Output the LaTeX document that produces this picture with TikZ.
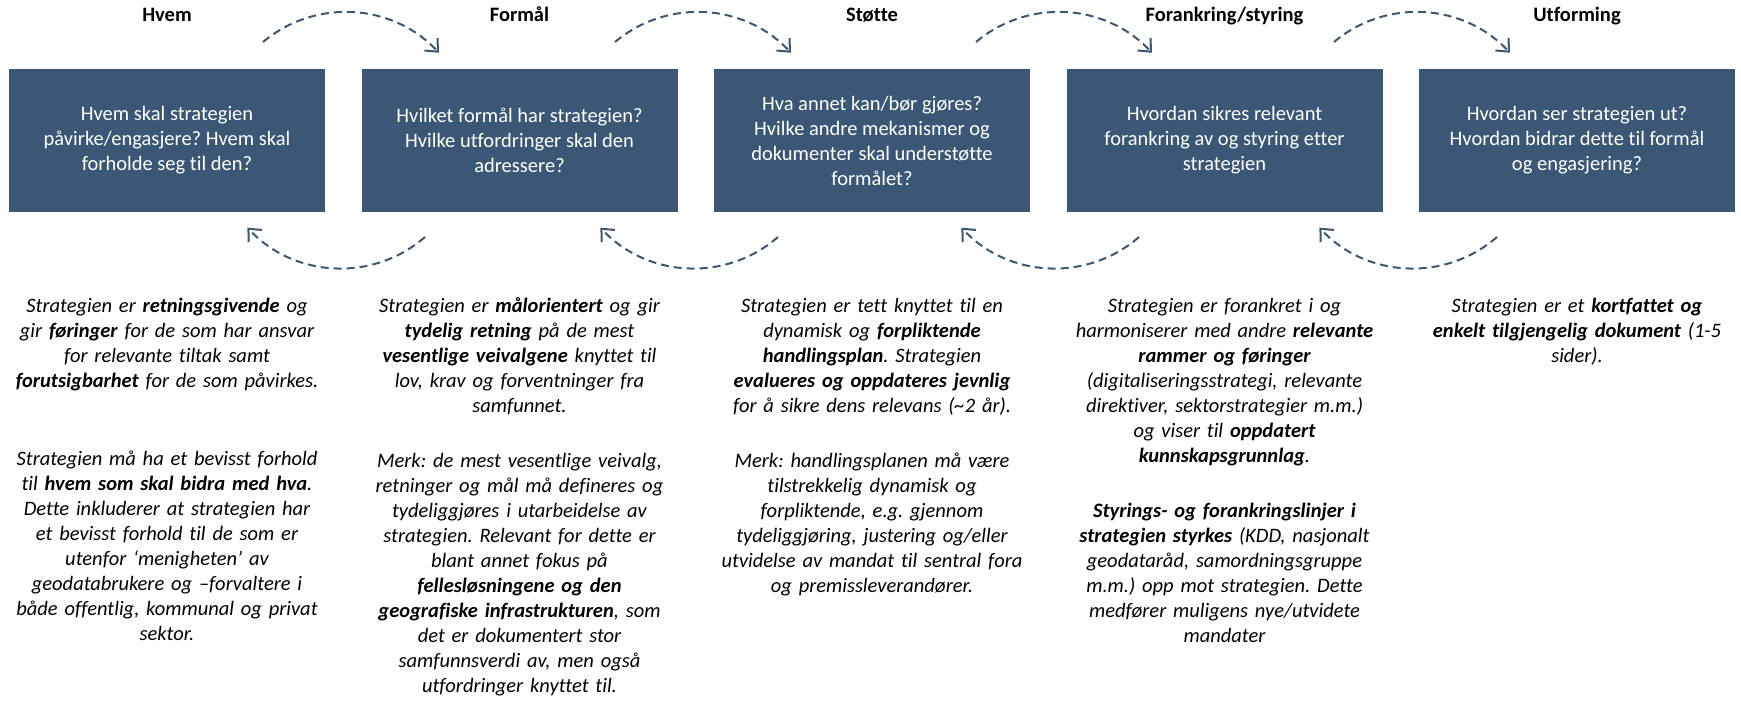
\documentclass[tikz,border=0pt]{standalone}
\usepackage{fontspec}
\setmainfont{Carlito}[Ligatures={TeX,NoCommon}]
\usetikzlibrary{arrows.meta}
\definecolor{boxblue}{HTML}{3B5775}
\frenchspacing
\begin{document}
\begin{tikzpicture}[x=1pt,y=-1pt,
  qbox/.style={fill=boxblue, draw=none, minimum width=316pt, minimum height=143pt, inner sep=0pt, text=white, align=center, font=\frenchspacing\fontsize{20.5}{25}\selectfont},
  ttl/.style={font=\fontsize{20.5}{25}\selectfont\bfseries, anchor=base, inner sep=0pt},
  desc/.style={font=\frenchspacing\fontsize{20.5}{25}\selectfont\itshape, align=center, anchor=base, inner sep=0pt, text width=345pt},
  cyc/.style={draw=boxblue, line width=2pt, dash pattern=on 8pt off 5pt, -{Straight Barb[length=10pt,width=18pt,line width=2pt]}}
]
\useasboundingbox (0,0) rectangle (1741,703);

% titles
\node[ttl] (t1) at (167,22) {Hvem};
\node[ttl] (t2) at (519.5,22) {Formål};
\node[ttl] (t3) at (872,22) {Støtte};
\node[ttl] (t4) at (1224.5,22) {Forankring/styring};
\node[ttl] (t5) at (1577,22) {Utforming};

% boxes
\node[qbox] (b1) at (167,140.5) {Hvem skal strategien\\påvirke/engasjere? Hvem skal\\forholde seg til den?};
\node[qbox] (b2) at (519.5,140.5) {Hvilket formål har strategien?\\Hvilke utfordringer skal den\\adressere?};
\node[qbox] (b3) at (872,140.5) {Hva annet kan/bør gjøres?\\Hvilke andre mekanismer og\\dokumenter skal understøtte\\formålet?};
\node[qbox] (b4) at (1224.5,140.5) {Hvordan sikres relevant\\forankring av og styring etter\\strategien};
\node[qbox] (b5) at (1577,140.5) {Hvordan ser strategien ut?\\Hvordan bidrar dette til formål\\og engasjering?};

% cycle arrows (upper: forward, lower: backward)
\coordinate (u1) at (263,42);
\coordinate (u2) at (615,42);
\coordinate (u3) at (976,42);
\coordinate (u4) at (1334,42);
\draw[cyc] (u1) arc[start angle=-130, end angle=-43, radius=128];
\draw[cyc] (u2) arc[start angle=-130, end angle=-43, radius=128];
\draw[cyc] (u3) arc[start angle=-130, end angle=-43, radius=128];
\draw[cyc] (u4) arc[start angle=-130, end angle=-43, radius=128];
\coordinate (l1) at (425,237);
\coordinate (l2) at (778,237);
\coordinate (l3) at (1139,237);
\coordinate (l4) at (1497,237);
\draw[cyc] (l1) arc[start angle=49, end angle=137, radius=128];
\draw[cyc] (l2) arc[start angle=49, end angle=137, radius=128];
\draw[cyc] (l3) arc[start angle=49, end angle=137, radius=128];
\draw[cyc] (l4) arc[start angle=49, end angle=137, radius=128];

% descriptions
\node[desc] (d1) at (167,313) {Strategien er \textbf{retningsgivende} og\\gir \textbf{føringer} for de som har ansvar\\for relevante tiltak samt\\\textbf{forutsigbarhet} for de som påvirkes.\\[53pt]
Strategien må ha et bevisst forhold\\til \textbf{hvem som skal bidra med hva}.\\Dette inkluderer at strategien har\\et bevisst forhold til de som er\\utenfor ‘menigheten’ av\\geodatabrukere og –forvaltere i\\både offentlig, kommunal og privat\\sektor.};
\node[desc] (d2) at (519.5,313) {Strategien er \textbf{målorientert} og gir\\\textbf{tydelig retning} på de mest\\\textbf{vesentlige veivalgene} knyttet til\\lov, krav og forventninger fra\\samfunnet.\\[30pt]
Merk: de mest vesentlige veivalg,\\retninger og mål må defineres og\\tydeliggjøres i utarbeidelse av\\strategien. Relevant for dette er\\blant annet fokus på\\\textbf{fellesløsningene og den}\\\textbf{geografiske infrastrukturen}, som\\det er dokumentert stor\\samfunnsverdi av, men også\\utfordringer knyttet til.};
\node[desc] (d3) at (872,313) {Strategien er tett knyttet til en\\dynamisk og \textbf{forpliktende}\\\textbf{handlingsplan}. Strategien\\\textbf{evalueres og oppdateres jevnlig}\\for å sikre dens relevans (\textasciitilde2 år).\\[30pt]
Merk: handlingsplanen må være\\tilstrekkelig dynamisk og\\forpliktende, e.g. gjennom\\tydeliggjøring, justering og/eller\\utvidelse av mandat til sentral fora\\og premissleverandører.};
\node[desc] (d4) at (1224.5,313) {Strategien er forankret i og\\harmoniserer med andre \textbf{relevante}\\\textbf{rammer og føringer}\\(digitaliseringsstrategi, relevante\\direktiver, sektorstrategier m.m.)\\og viser til \textbf{oppdatert}\\\textbf{kunnskapsgrunnlag}.\\[30pt]
\textbf{Styrings- og forankringslinjer i}\\\textbf{strategien styrkes} (KDD, nasjonalt\\geodataråd, samordningsgruppe\\m.m.) opp mot strategien. Dette\\medfører muligens nye/utvidete\\mandater};
\node[desc] (d5) at (1577,313) {Strategien er et \textbf{kortfattet og}\\\textbf{enkelt tilgjengelig dokument} (1-5\\sider).};
\end{tikzpicture}
\end{document}
